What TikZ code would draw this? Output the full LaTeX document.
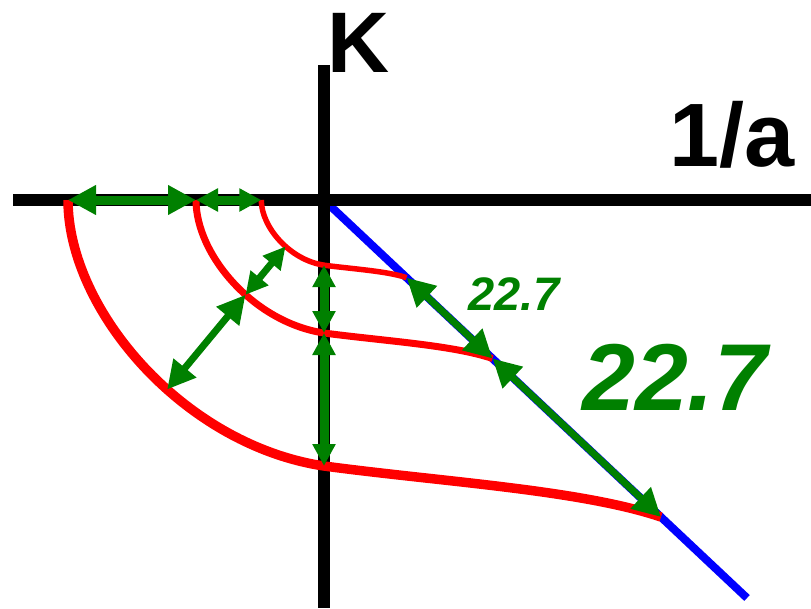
\documentclass[tikz,border=0pt]{standalone}
\usepackage{fontspec}
\setmainfont{Liberation Sans}
\usetikzlibrary{arrows.meta}

\begin{document}
\begin{tikzpicture}[x=1pt, y=-1pt,
    ax/.style={line width=12pt, black},
    bl/.style={line width=8pt, blue},
    rc/.style={red},
    gr/.style={green!50!black, line width=7pt,
        {Triangle[length=22pt,width=22pt]}-{Triangle[length=22pt,width=22pt]}},
    big/.style={{Triangle[length=28pt,width=28pt]}-{Triangle[length=28pt,width=28pt]}},
    lbl/.style={inner sep=0pt, green!50!black}]
\useasboundingbox (0,0) rectangle (811,608);
% Achsen
\draw[bl] (324,200) -- (747,598);
\draw[ax] (13,200) -- (811,200);
\draw[ax] (324,65) -- (324,608);
\node[inner sep=0pt, anchor=base west, font=\fontsize{86}{86}\selectfont\bfseries] (k) at (327,72) {K};
\node[inner sep=0pt, anchor=base east, font=\fontsize{90}{90}\selectfont\bfseries] (inva) at (795,166) {1/a};
% Kurven, je um Faktor 2 skaliert
\foreach \i/\f/\w in {1/1/9.5pt, 2/0.5/7pt, 3/0.245/5.5pt} {
    \draw[rc, line width=\w, shift={(324,200)}, scale=\f]
        (-256,0) coordinate (h\i)
        .. controls (-256,110) and (-140,245) .. (0,266) coordinate[pos=0.58] (d\i) coordinate (v\i)
        .. controls (120,282) and (257,290) .. (337,317) coordinate (b\i);
}
% Pfeile
\draw[gr, big, line width=9pt] (h1) -- (h2);
\draw[gr, line width=9pt] (h2) -- (h3);
\draw[gr, big] (d1) -- (d2);
\draw[gr] (d2) -- (d3);
\draw[gr, line width=9pt] (v3) -- (v2);
\draw[gr, line width=9pt] (v2) -- (v1);
\draw[gr, big] (b3) -- (b2);
\draw[gr, big] (b2) -- (b1);
\node[lbl, anchor=base west, font=\fontsize{47}{47}\selectfont\bfseries\itshape] (small) at (468,310) {22.7};
\node[lbl, anchor=base west, font=\fontsize{95}{95}\selectfont\bfseries\itshape] (large) at (582,410) {22.7};
\end{tikzpicture}
\end{document}
